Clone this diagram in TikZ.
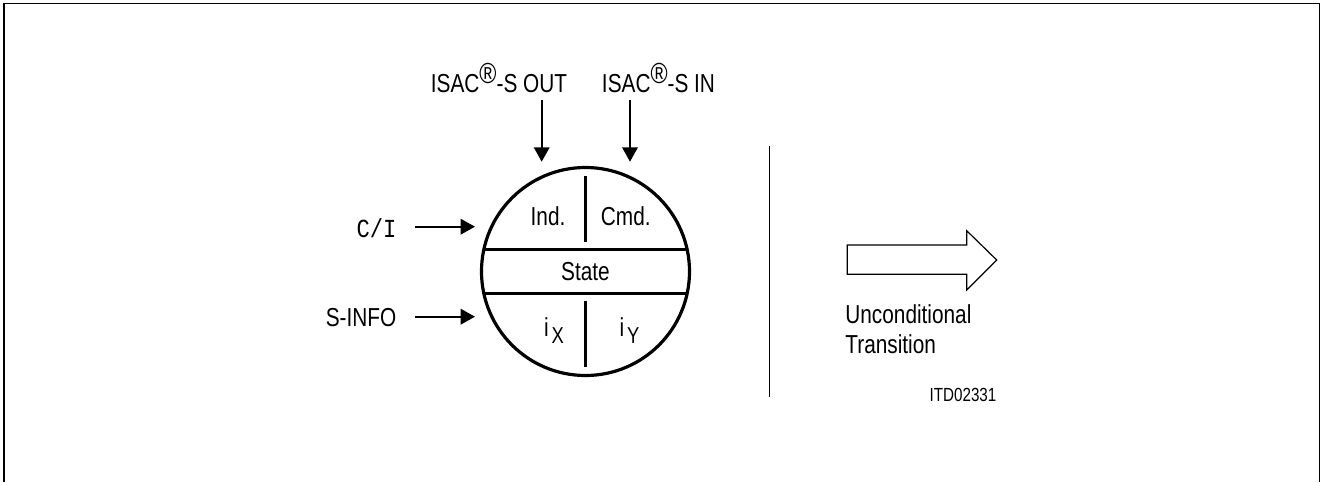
\documentclass[tikz,border=0pt]{standalone}
\usepackage{fontspec}
\setmainfont[FakeStretch=0.8]{Liberation Sans}
\newfontfamily\cimono[FakeStretch=0.85]{Liberation Mono}
\usepackage{tikz}
\usetikzlibrary{arrows.meta,positioning,calc}
\tikzset{
  statecircle/.style={circle, draw, line width=1.6pt, minimum size=104pt, inner sep=0pt},
  splitline/.style={line width=1.6pt},
  flow/.style={-{Triangle[length=7.2pt,width=7.8pt]}, line width=0.85pt},
  sigtext/.style={inner sep=0pt, font=\fontsize{13}{15}\selectfont},
  celltext/.style={inner sep=0pt, font=\fontsize{13}{15}\selectfont},
  openarrow/.style={draw, line width=0.6pt, fill=white},
  thinline/.style={line width=0.8pt}
}

\begin{document}
\begin{tikzpicture}
\useasboundingbox (-292.75pt,-105.25pt) rectangle (367.75pt,135.75pt);
% frame, open at the bottom
\draw[thinline] (-290.75pt,-105.25pt) |- (366.9pt,134pt) -- (366.9pt,-105.25pt);

% state circle
\node[statecircle] (st) at (0,0) {};
\begin{scope}
  \clip (st.center) circle (52pt);
  \draw[splitline] (-60pt,11.1pt) -- (60pt,11.1pt);
  \draw[splitline] (-60pt,-11.1pt) -- (60pt,-11.1pt);
\end{scope}
\draw[splitline] (0,14.75pt) -- (0,47.75pt);
\draw[splitline] (0,-14.75pt) -- (0,-47.75pt);

\node[celltext, anchor=base] (ind) at (-18.75pt,23.25pt) {Ind.};
\node[celltext, anchor=base] (cmd) at (20.15pt,23.25pt) {Cmd.};
\node[celltext, anchor=base] (stt) at (0,-4.25pt) {State};
\node[celltext, anchor=base] (ix) at (-15.75pt,-32.6pt) {i\hspace{1.5pt}\raisebox{-3.3pt}{\fontsize{11.5}{11.5}\selectfont X}};
\node[celltext, anchor=base] (iy) at (22pt,-32.6pt) {i\hspace{1.5pt}\raisebox{-3.3pt}{\fontsize{11.5}{11.5}\selectfont Y}};

% inputs from above
\node[sigtext, anchor=base] (sout) at (-43.25pt,89.4pt) {ISAC\raisebox{4.6pt}{\fontsize{14.5}{14.5}\selectfont ®}-S OUT};
\node[sigtext, anchor=base] (sin) at (36.5pt,89.4pt) {ISAC\raisebox{4.6pt}{\fontsize{14.5}{14.5}\selectfont ®}-S IN};
\coordinate (souta) at (-21.9pt,85.75pt);
\coordinate (soutb) at (-21.9pt,54.9pt);
\coordinate (sina) at (22.25pt,85.75pt);
\coordinate (sinb) at (22.25pt,54.9pt);
\draw[flow] (souta) -- (soutb);
\draw[flow] (sina) -- (sinb);

% inputs from the left
\node[sigtext, anchor=base east, font=\cimono\fontsize{13}{15}\selectfont] (ci) at (-94.4pt,17.1pt) {C/I};
\node[sigtext, anchor=base east] (sinfo) at (-94.4pt,-27.25pt) {S-INFO};
\coordinate (cia) at (-85.25pt,22.4pt);
\coordinate (cib) at (-55.25pt,22.4pt);
\coordinate (sia) at (-85.25pt,-22.6pt);
\coordinate (sib) at (-55.25pt,-22.6pt);
\draw[flow] (cia) -- (cib);
\draw[flow] (sia) -- (sib);

% legend
\draw[thinline] (92pt,62.75pt) -- (92pt,-62.6pt);
\draw[openarrow] (130.9pt,-1.4pt) -- (190.6pt,-1.4pt) -- (190.6pt,-9.25pt)
  -- (205.6pt,5.75pt) -- (190.6pt,20.4pt) -- (190.6pt,13.25pt) -- (130.9pt,13.25pt) -- cycle;
\node[celltext, anchor=north west, align=left] (uncond) at (129.75pt,-16.6pt) {Unconditional\\Transition};
\node[inner sep=0pt, anchor=base, font=\fontsize{9.5}{11}\selectfont] (itd) at (188.75pt,-65.1pt) {ITD02331};
\end{tikzpicture}
\end{document}
